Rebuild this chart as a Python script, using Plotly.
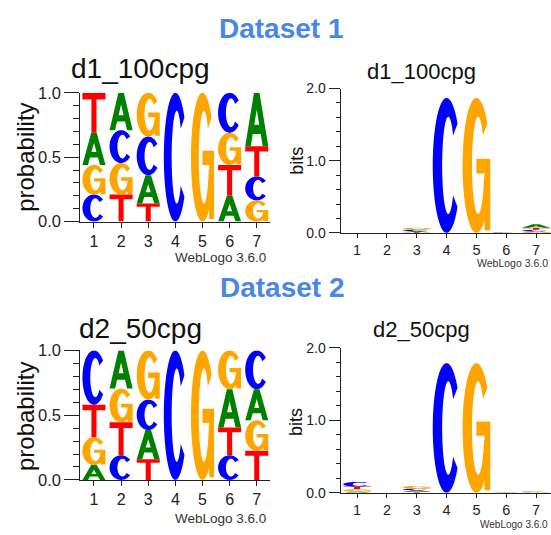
import numpy as np
import plotly.graph_objects as go

W, H = 551, 535
FONT = "Liberation Sans, Arial, Helvetica, sans-serif"

# ---- data -------------------------------------------------------------
positions = [1, 2, 3, 4, 5, 6, 7]
bases = ["A", "C", "G", "T"]
base_colors = {"A": "#008000", "C": "#0000FF", "G": "#FFA500", "T": "#FF0000"}

# per-position base probabilities, dataset 1
d1_prob_A = [0.25, 0.29, 0.22, 0.0, 0.0, 0.20, 0.415]
d1_prob_C = [0.21, 0.255, 0.30, 1.0, 0.0, 0.31, 0.185]
d1_prob_G = [0.23, 0.245, 0.34, 0.0, 1.0, 0.25, 0.165]
d1_prob_T = [0.31, 0.21, 0.14, 0.0, 0.0, 0.24, 0.235]

# per-position base probabilities, dataset 2
d2_prob_A = [0.115, 0.295, 0.225, 0.0, 0.0, 0.295, 0.24]
d2_prob_C = [0.42, 0.19, 0.235, 1.0, 0.0, 0.19, 0.30]
d2_prob_G = [0.215, 0.26, 0.38, 0.0, 1.0, 0.30, 0.235]
d2_prob_T = [0.25, 0.255, 0.16, 0.0, 0.0, 0.215, 0.225]

# information content per position (bits)
d1_bits = [0.0, 0.0, 0.07, 1.87, 1.87, 0.012, 0.12]
d2_bits = [0.15, 0.0, 0.095, 1.79, 1.79, 0.015, 0.02]

prob_ticks = [0.0, 0.5, 1.0]
prob_ticktext = ["0.0", "0.5", "1.0"]
bits_ticks = [0.0, 1.0, 2.0]
bits_ticktext = ["0.0", "1.0", "2.0"]
pos_ticktext = ["1", "2", "3", "4", "5", "6", "7"]

d1_probs = {"A": d1_prob_A, "C": d1_prob_C, "G": d1_prob_G, "T": d1_prob_T}
d2_probs = {"A": d2_prob_A, "C": d2_prob_C, "G": d2_prob_G, "T": d2_prob_T}


# ---- letter outlines in a unit box -----------------------------------
def arc(cx, cy, rx, ry, a0, a1, n=64):
    t = np.radians(np.linspace(a0, a1, n))
    return [(cx + rx * np.cos(a), cy + ry * np.sin(a)) for a in t]


def signed_area(poly):
    s = 0.0
    for (x0, y0), (x1, y1) in zip(poly, poly[1:] + poly[:1]):
        s += x0 * y1 - x1 * y0
    return s / 2


def oriented(poly, ccw=True):
    return poly if (signed_area(poly) > 0) == ccw else poly[::-1]


GLYPHS = {
    "C": [oriented(arc(0.5, 0.5, 0.5, 0.5, 38, 322) + arc(0.56, 0.5, 0.22, 0.36, 322, 38))],
    "G": [
        oriented(arc(0.5, 0.5, 0.5, 0.5, 38, 345) + arc(0.56, 0.5, 0.22, 0.36, 345, 38)),
        oriented([(0.5, 0.55), (1.0, 0.55), (1.0, 0.02), (0.79, 0.02), (0.79, 0.44), (0.5, 0.44)]),
    ],
    "T": [oriented([(0, 1), (0, 0.83), (0.39, 0.83), (0.39, 0), (0.61, 0),
                    (0.61, 0.83), (1, 0.83), (1, 1)])],
    "A": [
        oriented([(0, 0), (0.24, 0), (0.327, 0.23), (0.673, 0.23), (0.76, 0),
                  (1, 0), (0.62, 1), (0.38, 1)]),
        oriented([(0.392, 0.40), (0.608, 0.40), (0.5, 0.684)], ccw=False),
    ],
}


def glyph_path(base, xc, width, y0, height):
    parts = []
    for poly in GLYPHS[base]:
        pts = [(xc - width / 2 + u * width, y0 + v * height) for u, v in poly]
        parts.append("M" + "L".join(f"{x:.4f},{y:.6f}" for x, y in pts) + "Z")
    return "".join(parts)


fig = go.Figure()


def add_logo(probs, scale, xr, yr, width):
    # invisible anchor trace so the subplot is created
    fig.add_trace(go.Scatter(x=positions, y=[0] * len(positions), xaxis=xr, yaxis=yr,
                             mode="markers", marker=dict(opacity=0), showlegend=False,
                             hoverinfo="skip"))
    for i, p in enumerate(positions):
        # smallest letter at the bottom of each stack
        stack = sorted(((b, probs[b][i] * scale[i]) for b in bases), key=lambda t: t[1])
        y0 = 0.0
        for b, h in stack:
            if h > 1e-6:
                fig.add_shape(type="path", path=glyph_path(b, p, width, y0, h),
                              xref=xr, yref=yr, fillcolor=base_colors[b],
                              line=dict(width=0), fillrule="nonzero", layer="above")
            y0 += h


add_logo(d1_probs, [1.0] * 7, "x", "y", 0.85)
add_logo(d1_probs, d1_bits, "x2", "y2", 0.93)
add_logo(d2_probs, [1.0] * 7, "x3", "y3", 0.85)
add_logo(d2_probs, d2_bits, "x4", "y4", 0.93)


def px_x(v):
    return v / W


def px_y(v):
    return 1 - v / H


def axis_style(size):
    return dict(showline=True, linecolor="#222", linewidth=1.3, showgrid=False,
                zeroline=False, ticks="outside", tickcolor="#222", tickwidth=1.2,
                tickfont=dict(family=FONT, size=size, color="#222"), fixedrange=True)


prob_x = dict(axis_style(16), domain=[px_x(80.4), px_x(270.3)], range=[0.5, 7.5],
              tickvals=positions, ticktext=pos_ticktext, ticklen=5)
bits_x = dict(axis_style(14.5), domain=[px_x(340.7), 1.0], range=[0.45, 7.5],
              tickvals=positions, ticktext=pos_ticktext, ticklen=4)
prob_y = dict(axis_style(16.5), range=[0, 1], tickvals=prob_ticks, ticktext=prob_ticktext,
              ticklen=15, minor=dict(dtick=0.1, ticklen=6, ticks="outside",
                                     tickcolor="#222", tickwidth=1.2, showgrid=False))
bits_y = dict(axis_style(14), range=[0, 2], tickvals=bits_ticks, ticktext=bits_ticktext,
              ticklen=11, minor=dict(dtick=0.2, ticklen=4, ticks="outside",
                                     tickcolor="#222", tickwidth=1.2, showgrid=False))

fig.update_layout(
    width=W, height=H, margin=dict(l=0, r=0, t=0, b=0),
    paper_bgcolor="white", plot_bgcolor="rgba(0,0,0,0)", showlegend=False,
    xaxis=dict(prob_x, anchor="y"),
    yaxis=dict(prob_y, anchor="x", domain=[px_y(220), px_y(86.7)]),
    xaxis2=dict(bits_x, anchor="y2"),
    yaxis2=dict(bits_y, anchor="x2", domain=[px_y(231.7), px_y(82.3)]),
    xaxis3=dict(prob_x, anchor="y3"),
    yaxis3=dict(prob_y, anchor="x3", domain=[px_y(487.3), px_y(353.3)]),
    xaxis4=dict(bits_x, anchor="y4"),
    yaxis4=dict(bits_y, anchor="x4", domain=[px_y(500.7), px_y(350.7)]),
)


def label(text, x, y, size, color="#111", angle=0, xanchor="center", weight="normal"):
    fig.add_annotation(text=text, x=px_x(x), y=px_y(y), xref="paper", yref="paper",
                       showarrow=False, xanchor=xanchor, yanchor="middle", textangle=angle,
                       font=dict(family=FONT, size=size, color=color, weight=weight))


label("Dataset 1", 281, 20, 28, color="#4A86E8", weight="bold")
label("Dataset 2", 282.5, 288.3, 28, color="#4A86E8", weight="bold")

label("d1_100cpg", 140.5, 61.7, 28)
label("d1_100cpg", 421, 64.4, 22)
label("d2_50cpg", 140, 330.7, 28)
label("d2_50cpg", 421, 331.4, 22)

label("probability", 25.5, 153.5, 24, angle=-90)
label("probability", 25.5, 421.7, 24, angle=-90)
label("bits", 297, 157, 18, angle=-90)
label("bits", 296, 427.5, 18, angle=-90)

label("WebLogo 3.6.0", 268, 257, 13.5, color="#333", xanchor="right")
label("WebLogo 3.6.0", 550, 262.5, 10.5, color="#333", xanchor="right")
label("WebLogo 3.6.0", 268, 527, 13.5, color="#333", xanchor="right")
label("WebLogo 3.6.0", 550, 533, 10, color="#333", xanchor="right")

fig.write_html("out.html")
